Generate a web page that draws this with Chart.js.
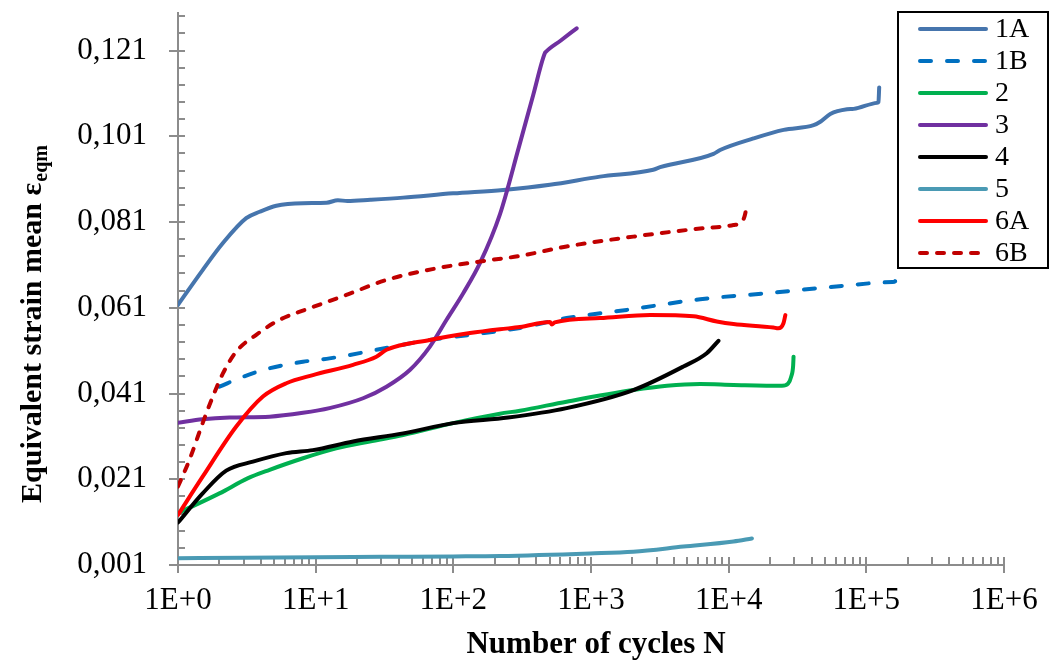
<!DOCTYPE html>
<html>
<head>
<meta charset="utf-8">
<title>Equivalent strain mean vs number of cycles</title>
<script src="https://cdn.jsdelivr.net/npm/chart.js@4.4.1/dist/chart.umd.min.js"></script>
<style>
  html, body { margin: 0; padding: 0; background: #ffffff; }
  #wrap { width: 1049px; height: 664px; position: relative; }
</style>
</head>
<body>
<div id="wrap"><canvas id="chart"></canvas></div>
<script>
// ---- series: number of cycles N and equivalent strain mean ----
const n1A = [1, 1.51, 2.12, 3.13, 3.92, 5.18, 8.09, 12.0, 14.5, 17, 25, 43.2, 99.7, 230, 503, 1162, 2833, 3177, 7760, 8670, 15140, 25060, 41400, 46300, 54700, 72400, 81000, 119700, 122500, 124000];
const e1A = [0.0617, 0.0698, 0.0761, 0.0819, 0.0834, 0.0848, 0.0854, 0.0855, 0.0861, 0.0859, 0.0862, 0.0867, 0.0877, 0.0885, 0.0897, 0.0916, 0.0932, 0.0938, 0.0969, 0.0978, 0.1005, 0.1025, 0.1036, 0.1044, 0.1062, 0.1073, 0.1074, 0.1088, 0.1090, 0.1124];

const n1B = [2.0, 2.96, 4.63, 8.09, 12.6, 17.7, 27.6, 67.4, 132, 305, 665, 1820, 6210, 18970, 57800, 155000, 162000, 163000];
const e1B = [0.0426, 0.0449, 0.0469, 0.0484, 0.0492, 0.0500, 0.0512, 0.0535, 0.0547, 0.0563, 0.0586, 0.0605, 0.0630, 0.0644, 0.0659, 0.0670, 0.0672, 0.0694];

const n2 = [1, 2, 3.2, 4.63, 8.09, 14.1, 24.7, 43.2, 99.7, 218, 305, 665, 2030, 3560, 6210, 10840, 24400, 27000, 28500, 29400, 29600];
const e2 = [0.0131, 0.0177, 0.0212, 0.0232, 0.0259, 0.0282, 0.0298, 0.0313, 0.0341, 0.0363, 0.0370, 0.0391, 0.0418, 0.0428, 0.0432, 0.0430, 0.0428, 0.0433, 0.0450, 0.0475, 0.0496];

const n3 = [1, 1.51, 2.37, 4.63, 8.09, 12.6, 22.1, 32.7, 48.3, 67.4, 89.3, 118, 156, 218, 300, 380, 462, 470, 600, 787];
const e3 = [0.0342, 0.0350, 0.0354, 0.0356, 0.0365, 0.0376, 0.0399, 0.0426, 0.0465, 0.0519, 0.0582, 0.0644, 0.0714, 0.0828, 0.0986, 0.1106, 0.1204, 0.1207, 0.1233, 0.1262];

const n4 = [1, 1.51, 2.24, 3.5, 6.12, 9.55, 18.7, 43.2, 99.7, 250, 665, 2030, 4690, 6930, 8430];
const e4 = [0.0109, 0.0177, 0.0230, 0.0251, 0.0271, 0.0278, 0.0298, 0.0317, 0.0341, 0.0354, 0.0376, 0.0418, 0.0473, 0.0504, 0.0533];

const n5 = [1, 3, 10, 30, 100, 218, 984, 2030, 4690, 10840, 14750];
const e5 = [0.0026, 0.0027, 0.0028, 0.0029, 0.0030, 0.0031, 0.0037, 0.0041, 0.0053, 0.0065, 0.0072];

const n6A = [1, 1.51, 2.65, 4.14, 6.12, 9.55, 18.7, 27.6, 32.7, 67.4, 132, 218, 305, 503, 520, 545, 1162, 2690, 5550, 8200, 10840, 21100, 22900, 25000, 25800];
const e6A = [0.0127, 0.0216, 0.0333, 0.0403, 0.0434, 0.0453, 0.0477, 0.0496, 0.0512, 0.0535, 0.0551, 0.0560, 0.0565, 0.0577, 0.0571, 0.0576, 0.0586, 0.0593, 0.0590, 0.0578, 0.0572, 0.0564, 0.0562, 0.0574, 0.0593];

const n6B = [1, 1.21, 1.51, 1.79, 2.12, 2.65, 3.7, 5.47, 9.04, 16.7, 32.7, 75.2, 156, 305, 665, 2030, 6210, 10840, 12500, 13200, 13550];
const e6B = [0.0193, 0.0255, 0.0341, 0.0403, 0.0457, 0.0508, 0.0547, 0.0582, 0.0609, 0.0640, 0.0675, 0.0702, 0.0718, 0.0731, 0.0753, 0.0776, 0.0795, 0.0803, 0.0811, 0.0830, 0.0854];

const seriesLabels = ['1A', '1B', '2', '3', '4', '5', '6A', '6B'];

// ---- axes ----
const xTicks = [1, 10, 100, 1000, 10000, 100000, 1000000];
const xTickLabels = ['1E+0', '1E+1', '1E+2', '1E+3', '1E+4', '1E+5', '1E+6'];
const yTicks = [0.001, 0.021, 0.041, 0.061, 0.081, 0.101, 0.121];
const yTickLabels = ['0,001', '0,021', '0,041', '0,061', '0,081', '0,101', '0,121'];
const xTitle = 'Number of cycles N';
const yTitle = 'Equivalent strain mean \u03b5';
const yTitleSub = 'eqm';

const SERIF = '"Liberation Serif", "Times New Roman", serif';
const AXIS_GREY = '#8c8c8c';

function pts(nArr, eArr) {
  return nArr.map((n, i) => ({ x: n, y: eArr[i] }));
}

const styles = [
  { color: '#4675ad', dash: [] },
  { color: '#0070c0', dash: [11, 16] },
  { color: '#00b050', dash: [] },
  { color: '#7030a0', dash: [] },
  { color: '#000000', dash: [] },
  { color: '#4a9ab4', dash: [] },
  { color: '#ff0000', dash: [] },
  { color: '#c00000', dash: [7, 10] }
];
const seriesData = [pts(n1A, e1A), pts(n1B, e1B), pts(n2, e2), pts(n3, e3),
                    pts(n4, e4), pts(n5, e5), pts(n6A, e6A), pts(n6B, e6B)];

const datasets = seriesData.map((d, i) => ({
  label: seriesLabels[i],
  data: d,
  borderColor: styles[i].color,
  backgroundColor: styles[i].color,
  borderDash: styles[i].dash,
  borderWidth: 4,
  borderCapStyle: 'round',
  borderJoinStyle: 'round',
  pointRadius: 0,
  pointHoverRadius: 0,
  cubicInterpolationMode: 'monotone',
  fill: false,
  order: seriesLabels.length - i   // later series are painted over earlier ones
}));

// axis lines with cross/inside tick marks, drawn through the chart scales
const axesPlugin = {
  id: 'axesLines',
  beforeDatasetsDraw(chart) {
    const { ctx, chartArea: a, scales: { x, y } } = chart;
    ctx.save();
    ctx.strokeStyle = AXIS_GREY;
    ctx.lineWidth = 2;
    ctx.lineCap = 'butt';
    ctx.beginPath();
    ctx.moveTo(a.left, a.top);
    ctx.lineTo(a.left, a.bottom + 1);
    ctx.moveTo(a.left - 1, a.bottom);
    ctx.lineTo(a.right, a.bottom);
    // y minor ticks every 0.004, inside
    for (let k = 0; k <= 32; k++) {
      const py = Math.round(y.getPixelForValue(0.001 + k * 0.004));
      ctx.moveTo(a.left, py);
      ctx.lineTo(a.left + 7, py);
    }
    // y major ticks, crossing
    yTicks.forEach(v => {
      const py = Math.round(y.getPixelForValue(v));
      ctx.moveTo(a.left - 9, py);
      ctx.lineTo(a.left + 7, py);
    });
    // x minor ticks 2..9 per decade, inside
    for (let d = 1; d < 1e6; d *= 10) {
      for (let k = 2; k <= 9; k++) {
        const px = Math.round(x.getPixelForValue(k * d));
        ctx.moveTo(px, a.bottom);
        ctx.lineTo(px, a.bottom - 8);
      }
    }
    // x major ticks, crossing
    xTicks.forEach(v => {
      const px = Math.round(x.getPixelForValue(v));
      ctx.moveTo(px, a.bottom - 8);
      ctx.lineTo(px, a.bottom + 8);
    });
    ctx.stroke();
    ctx.restore();
  }
};

// boxed legend drawn over the upper right of the plot
const legendPlugin = {
  id: 'boxLegend',
  afterDatasetsDraw(chart) {
    const { ctx } = chart;
    const box = { left: 898, top: 12, right: 1048, bottom: 268 };
    ctx.save();
    ctx.fillStyle = '#ffffff';
    ctx.fillRect(box.left, box.top, box.right - box.left, box.bottom - box.top);
    ctx.strokeStyle = '#000000';
    ctx.lineWidth = 2;
    ctx.strokeRect(box.left, box.top, box.right - box.left, box.bottom - box.top);
    chart.data.datasets.forEach((ds, i) => {
      const cy = 29 + i * 32;
      ctx.beginPath();
      ctx.strokeStyle = ds.borderColor;
      ctx.lineWidth = ds.borderWidth;
      ctx.lineCap = 'round';
      ctx.setLineDash(ds.borderDash || []);
      ctx.moveTo(920, cy);
      ctx.lineTo(986, cy);
      ctx.stroke();
      ctx.setLineDash([]);
      ctx.fillStyle = '#000000';
      ctx.font = '28px ' + SERIF;
      ctx.textAlign = 'left';
      ctx.textBaseline = 'middle';
      ctx.fillText(ds.label, 995, cy + 1);
    });
    ctx.restore();
  }
};

// axis titles (the y title carries a subscript)
const titlesPlugin = {
  id: 'axisTitles',
  afterDraw(chart) {
    const { ctx } = chart;
    ctx.save();
    ctx.fillStyle = '#000000';
    ctx.font = 'bold 31px ' + SERIF;
    ctx.textAlign = 'center';
    ctx.textBaseline = 'alphabetic';
    ctx.fillText(xTitle, 596, 653);

    ctx.translate(41, 503);
    ctx.rotate(-Math.PI / 2);
    ctx.textAlign = 'left';
    ctx.font = 'bold 30px ' + SERIF;
    ctx.fillText(yTitle, 0, 0);
    const w = ctx.measureText(yTitle).width;
    ctx.font = 'bold 20px ' + SERIF;
    ctx.fillText(yTitleSub, w + 1, 6);
    ctx.restore();
  }
};

new Chart(document.getElementById('chart'), {
  type: 'line',
  data: { datasets },
  plugins: [axesPlugin, legendPlugin, titlesPlugin],
  options: {
    responsive: true,
    maintainAspectRatio: false,
    animation: false,
    events: [],
    layout: { padding: { top: 12, right: 45, left: 0, bottom: 0 } },
    plugins: {
      legend: { display: false },
      tooltip: { enabled: false },
      title: { display: false }
    },
    scales: {
      x: {
        type: 'logarithmic',
        min: 1,
        max: 1e6,
        grid: { display: false, drawTicks: false, tickLength: 0 },
        border: { display: false },
        afterBuildTicks: s => { s.ticks = xTicks.map(v => ({ value: v })); },
        afterFit: s => { s.height = 99; s.paddingLeft = 0; s.paddingRight = 0; },
        ticks: {
          autoSkip: false,
          maxRotation: 0,
          minRotation: 0,
          padding: 17,
          color: '#000000',
          font: { family: SERIF, size: 31 },
          callback: (v, i) => xTickLabels[i]
        }
      },
      y: {
        type: 'linear',
        min: 0.001,
        max: 0.13,
        grid: { display: false, drawTicks: false, tickLength: 0 },
        border: { display: false },
        afterBuildTicks: s => { s.ticks = yTicks.map(v => ({ value: v })); },
        afterFit: s => { s.width = 178; s.paddingTop = 0; s.paddingBottom = 0; },
        ticks: {
          padding: 31,
          color: '#000000',
          font: { family: SERIF, size: 31 },
          callback: (v, i) => yTickLabels[i]
        }
      }
    }
  }
});
</script>
</body>
</html>
